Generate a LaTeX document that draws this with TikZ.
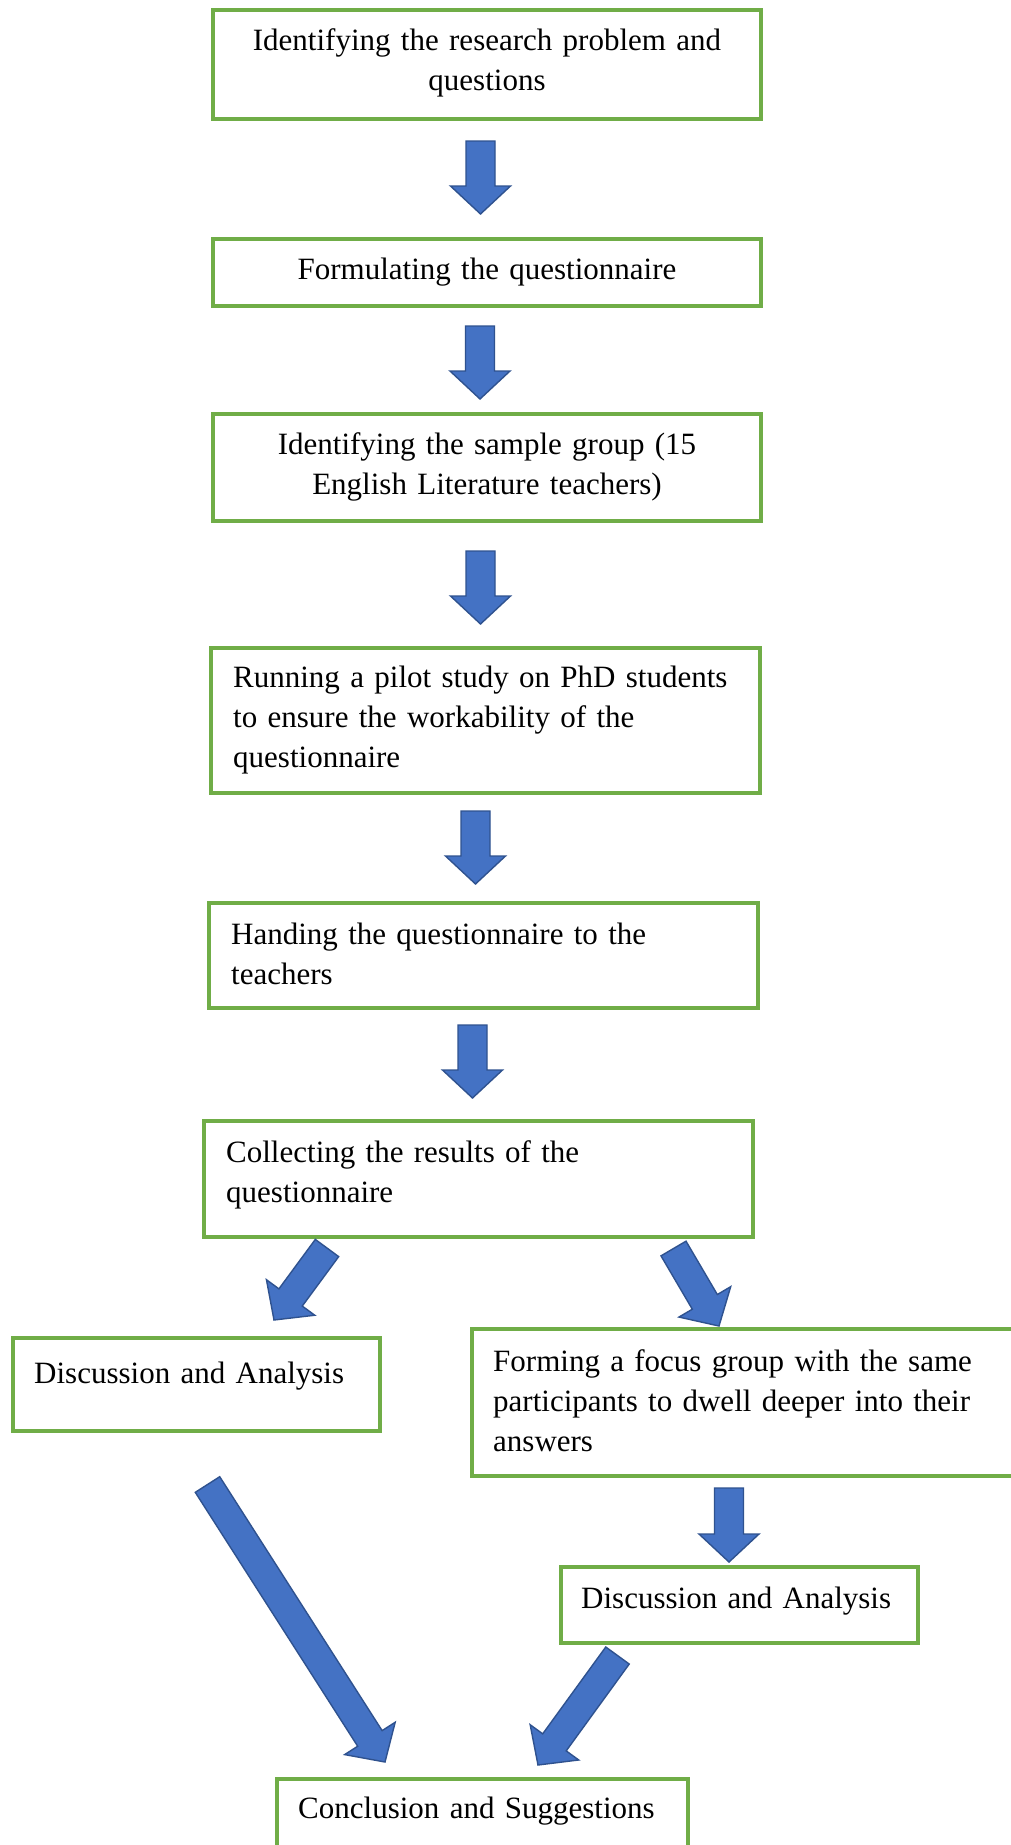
\documentclass[tikz,border=0pt]{standalone}
\usepackage{fontspec}
\setmainfont{Liberation Serif}
\usetikzlibrary{calc}
\definecolor{boxgreen}{HTML}{70AD47}
\definecolor{arrfill}{HTML}{4472C4}
\definecolor{arrdraw}{HTML}{2F528F}
\newcommand\blockarr[2]{%
  \path ($(#2)!28pt!(#1)$) coordinate (hb);
  \draw[blockarrow] ($(#1)!14.5pt!90:(#2)$) -- ($(hb)!14.5pt!90:(#2)$) -- ($(hb)!30pt!90:(#2)$) -- (#2) -- ($(hb)!30pt!-90:(#2)$) -- ($(hb)!14.5pt!-90:(#2)$) -- ($(#1)!14.5pt!-90:(#2)$) -- cycle;}
\begin{document}
\begin{tikzpicture}[x=1pt,y=-1pt,
  stepbox/.style={draw=boxgreen, line width=3.2pt, rectangle, inner sep=0pt},
  blockarrow/.style={fill=arrfill, draw=arrdraw, line width=1.4pt, line join=miter},
  lbl/.style={inner sep=0pt, anchor=base west, align=left, font=\fontsize{31}{40}\selectfont},
  clbl/.style={inner sep=0pt, anchor=base, align=center, font=\fontsize{31}{40}\selectfont}]
\useasboundingbox (0,0) rectangle (1010,1845);
\fill[white] (0,0) rectangle (1010,1845);

% boxes
\node[stepbox, minimum width=548pt, minimum height=109pt] (b1) at (487,64.5) {};
\node[stepbox, minimum width=548pt, minimum height=67pt] (b2) at (487,272.5) {};
\node[stepbox, minimum width=548pt, minimum height=107pt] (b3) at (487,467.5) {};
\node[stepbox, minimum width=549pt, minimum height=145pt] (b4) at (485.5,720.5) {};
\node[stepbox, minimum width=549pt, minimum height=105pt] (b5) at (483.5,955.5) {};
\node[stepbox, minimum width=549pt, minimum height=116pt] (b6) at (478.5,1179) {};
\node[stepbox, minimum width=367pt, minimum height=93pt] (b7) at (196.5,1384.5) {};
\node[stepbox, minimum width=548pt, minimum height=147pt] (b8) at (746,1402.5) {};
\node[stepbox, minimum width=357pt, minimum height=76pt] (b9) at (739.5,1605) {};
\node[stepbox, minimum width=411pt, minimum height=76pt] (b10) at (482.5,1817) {};

% texts
\node[clbl, text width=520pt] (t1) at (487,50) {Identifying the research problem and\\questions};
\node[clbl, text width=520pt] (t2) at (487,279) {Formulating the questionnaire};
\node[clbl, text width=520pt] (t3) at (487,454) {Identifying the sample group (15\\English Literature teachers)};
\node[lbl, text width=515pt] (t4) at (233,687) {Running a pilot study on PhD students\\to ensure the workability of the\\questionnaire};
\node[lbl, text width=515pt] (t5) at (231,944) {Handing the questionnaire to the\\teachers};
\node[lbl, text width=515pt] (t6) at (226,1162) {Collecting the results of the\\questionnaire};
\node[lbl, text width=335pt] (t7) at (34,1383) {Discussion and Analysis};
\node[lbl, text width=510pt] (t8) at (493,1371) {Forming a focus group with the same\\participants to dwell deeper into their\\answers};
\node[lbl, text width=330pt] (t9) at (581,1608) {Discussion and Analysis};
\node[lbl, text width=380pt] (t10) at (298,1818) {Conclusion and Suggestions};

% arrow end points
\coordinate (a1s) at (480.5,141);  \coordinate (a1e) at (480.5,214);
\coordinate (a2s) at (480,326);    \coordinate (a2e) at (480,399);
\coordinate (a3s) at (480.5,551);  \coordinate (a3e) at (480.5,624);
\coordinate (a4s) at (475.5,811);  \coordinate (a4e) at (475.5,884);
\coordinate (a5s) at (472.5,1025); \coordinate (a5e) at (472.5,1098);
\coordinate (d1s) at (327,1248);   \coordinate (d1e) at (274,1320);
\coordinate (d2s) at (673.5,1248.5); \coordinate (d2e) at (719,1326);
\coordinate (d3s) at (207.5,1484.5); \coordinate (d3e) at (385,1762);
\coordinate (d4s) at (729,1488);   \coordinate (d4e) at (729,1562);
\coordinate (d5s) at (617.5,1655.5); \coordinate (d5e) at (538,1765);

\blockarr{a1s}{a1e}
\blockarr{a2s}{a2e}
\blockarr{a3s}{a3e}
\blockarr{a4s}{a4e}
\blockarr{a5s}{a5e}
\blockarr{d1s}{d1e}
\blockarr{d2s}{d2e}
\blockarr{d3s}{d3e}
\blockarr{d4s}{d4e}
\blockarr{d5s}{d5e}
\end{tikzpicture}
\end{document}
